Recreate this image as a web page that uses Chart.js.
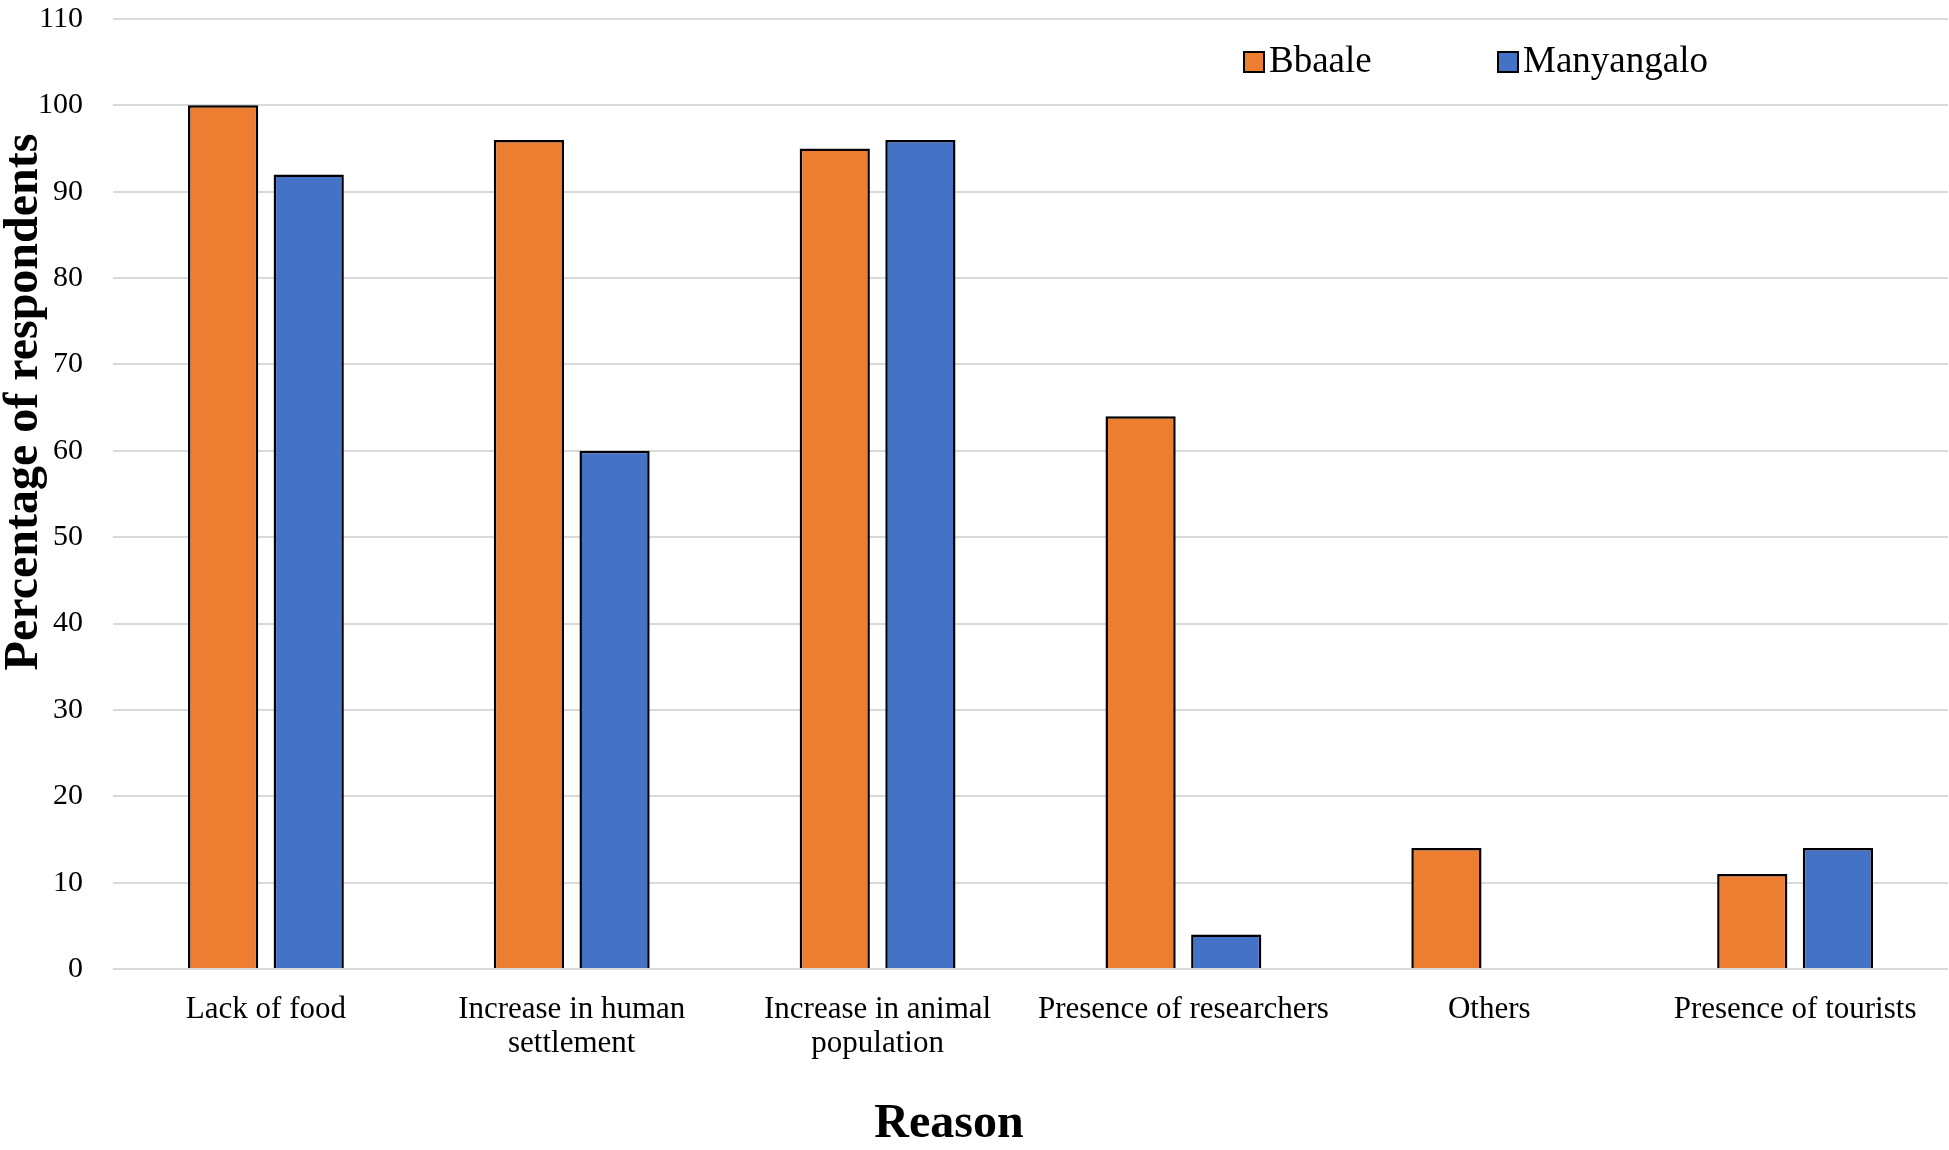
<!DOCTYPE html>
<html>
<head>
<meta charset="utf-8">
<script src="https://cdn.jsdelivr.net/npm/chart.js@4.4.1/dist/chart.umd.min.js"></script>
<style>
  html, body { margin: 0; padding: 0; background: #fff; }
  #wrap { width: 1949px; height: 1150px; }
</style>
</head>
<body>
<div id="wrap"><canvas id="myChart" width="1949" height="1150"></canvas></div>
<script>
// data
var reasons = ['Lack of food', ['Increase in human', 'settlement'], ['Increase in animal', 'population'], 'Presence of researchers', 'Others', 'Presence of tourists'];
var seriesNames = ['Bbaale', 'Manyangalo'];
var bbaale = [100, 96, 95, 64, 14, 11];
var manyangalo = [92, 60, 96, 4, 0, 14];
var yTicks = [0, 10, 20, 30, 40, 50, 60, 70, 80, 90, 100, 110];

var orange = '#ED7D31';
var blue = '#4472C4';
var serif = '"Liberation Serif", "Times New Roman", serif';

// legend and axis titles drawn by hand: in the original they are not centred on the axes
var extrasPlugin = {
  id: 'extras',
  afterDraw: function(chart) {
    var ctx = chart.ctx;
    var items = [
      { text: seriesNames[0], color: orange, x: 1244 },
      { text: seriesNames[1], color: blue, x: 1498 }
    ];
    ctx.save();
    ctx.font = '37px ' + serif;
    ctx.textBaseline = 'middle';
    items.forEach(function(it) {
      ctx.fillStyle = it.color;
      ctx.fillRect(it.x, 52, 20, 20);
      ctx.strokeStyle = '#000';
      ctx.lineWidth = 2;
      ctx.strokeRect(it.x, 52, 20, 20);
      ctx.fillStyle = '#000';
      ctx.fillText(it.text, it.x + 25, 62);
    });

    ctx.fillStyle = '#000';
    ctx.textAlign = 'center';
    ctx.font = 'bold 48px ' + serif;
    ctx.fillText('Reason', 949, 1125);

    ctx.translate(25, 402);
    ctx.rotate(-Math.PI / 2);
    ctx.fillText('Percentage of respondents', 0, 0);
    ctx.restore();
  }
};

drawChart();

function drawChart(){
  var ctx = document.getElementById('myChart').getContext('2d');
  var chart = new Chart(ctx, {
    type: 'bar',
    data: {
      labels: reasons,
      datasets: [{
        label: seriesNames[0],
        data: bbaale,
        backgroundColor: orange,
        borderColor: '#000',
        borderWidth: 2.5,
        categoryPercentage: 0.56,
        barPercentage: 0.82
      },
      {
        label: seriesNames[1],
        data: manyangalo,
        backgroundColor: blue,
        borderColor: '#000',
        borderWidth: 2.5,
        categoryPercentage: 0.56,
        barPercentage: 0.82
      }]
    },
    options: {
      responsive: false,
      animation: false,
      layout: { padding: { top: 19, right: 1, left: 0, bottom: 0 } },
      plugins: {
        legend: { display: false },
        tooltip: { enabled: false }
      },
      scales: {
        x: {
          grid: { display: false },
          border: { display: false },
          ticks: {
            color: '#000',
            padding: 15,
            maxRotation: 0,
            autoSkip: false,
            font: { family: serif, size: 31, lineHeight: 1.12 }
          },
          afterFit: function(s) { s.height = 181; }
        },
        y: {
          min: 0,
          max: 110,
          afterBuildTicks: function(s) {
            s.ticks = yTicks.map(function(v) { return { value: v }; });
          },
          grid: { color: '#d9d9d9', lineWidth: 2, drawTicks: false },
          border: { display: false },
          ticks: {
            color: '#000',
            padding: 30,
            font: { family: serif, size: 30 }
          },
          // tick padding would otherwise push the plot top down
          afterFit: function(s) { s.width = 113; s.paddingTop = 0; s.paddingBottom = 0; }
        }
      }
    },
    plugins: [extrasPlugin]
  });
}
</script>
</body>
</html>
